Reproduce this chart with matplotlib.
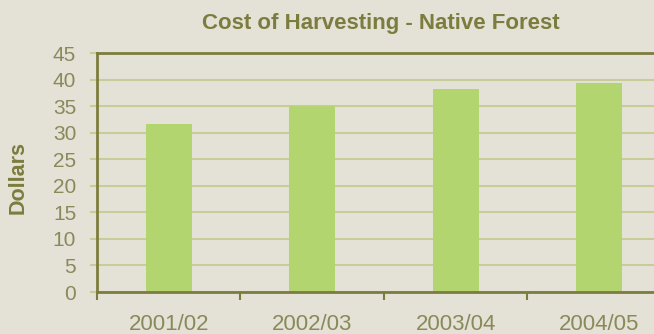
import numpy as np
import matplotlib.pyplot as plt

# data
years = ["2001/02", "2002/03", "2003/04", "2004/05"]
cost = [31.7, 35.0, 38.3, 39.3]

bg = "#e4e2d6"
olive = "#7c7c3e"
tick_col = "#8a895a"
grid_col = "#c6cd98"

plt.rcParams["font.family"] = ["Liberation Sans", "DejaVu Sans"]

fig = plt.figure(figsize=(6.54, 3.34), dpi=100, facecolor=bg)
ax = fig.add_axes([0.1483, 0.1257, 0.8517, 0.7156], facecolor=bg)

x = np.arange(len(years))
ax.bar(x, cost, width=0.318, color="#b3d56f", zorder=2)

ax.set_xlim(-0.465, 3.382)
ax.set_ylim(0, 45)
ax.set_yticks(np.arange(0, 50, 5))
ax.yaxis.grid(True, color=grid_col, linewidth=1.5, zorder=0)
ax.set_axisbelow(True)

for s in ["top", "left", "bottom"]:
    ax.spines[s].set_color(olive)
    ax.spines[s].set_linewidth(2)
ax.spines["right"].set_visible(False)

ax.set_xticks(x)
ax.set_xticklabels(years)
ax.set_xticks(np.arange(-0.5, 3, 1), minor=True)
ax.tick_params(axis="x", which="major", length=0, pad=16, labelsize=16, labelcolor=tick_col)
ax.tick_params(axis="x", which="minor", length=6, width=1.5, color=olive, direction="out")
ax.tick_params(axis="y", length=5, width=1.5, color=grid_col, pad=10, labelsize=15,
               labelcolor=tick_col)

fig.text(0.583, 0.913, "Cost of Harvesting - Native Forest", ha="center", va="baseline",
         fontsize=16, fontweight="bold", color=olive)
fig.text(0.0275, 0.47, "Dollars", rotation=90, ha="center", va="center",
         fontsize=15.5, fontweight="bold", color=olive)

fig.savefig("out.png", dpi=100, facecolor=bg)
